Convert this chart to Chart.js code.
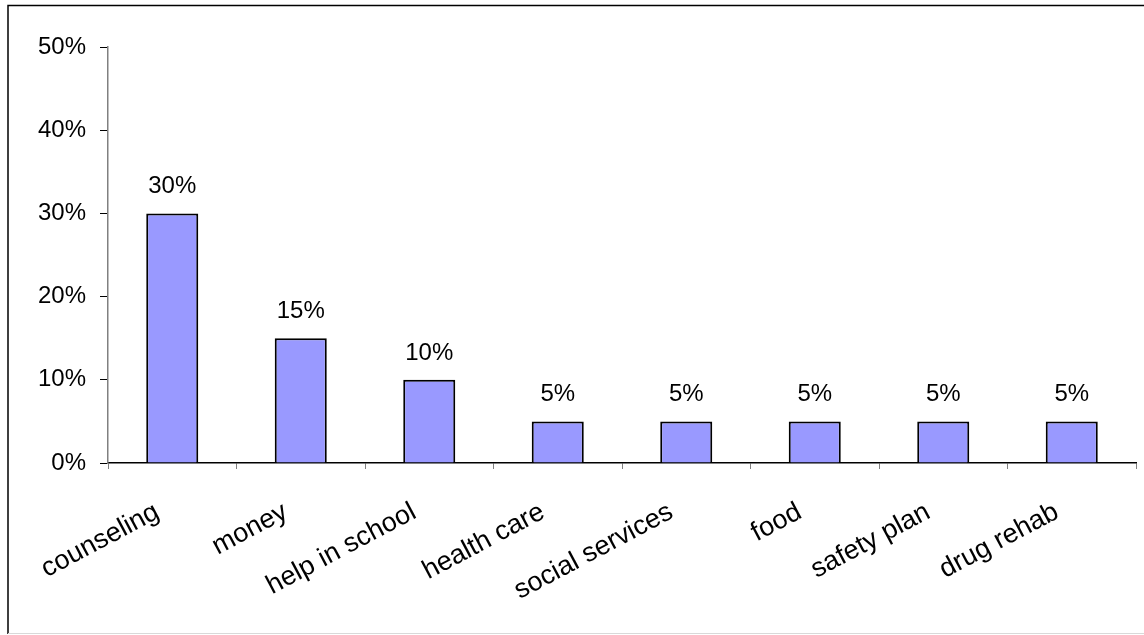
<!DOCTYPE html>
<html>
<head>
<meta charset="utf-8">
<script src="https://cdn.jsdelivr.net/npm/chart.js@4.4.0/dist/chart.umd.min.js"></script>
<style>
  html, body { margin: 0; padding: 0; background: #fff; }
  #wrap { width: 1144px; height: 635px; position: relative; }
</style>
</head>
<body>
<div id="wrap"><canvas id="c" width="1144" height="635"></canvas></div>
<script>
// Categories and shares (percent)
const categories = ['counseling', 'money', 'help in school', 'health care', 'social services', 'food', 'safety plan', 'drug rehab'];
const shares = [30, 15, 10, 5, 5, 5, 5, 5];
const yTicks = [0, 10, 20, 30, 40, 50];

const FONT = 'Liberation Sans, Arial, sans-serif';

// Frame around the chart
const framePlugin = {
  id: 'frame',
  beforeDraw(chart) {
    const ctx = chart.ctx;
    ctx.save();
    ctx.fillStyle = '#fff';
    ctx.fillRect(0, 0, chart.width, chart.height);
    ctx.strokeStyle = '#000';
    ctx.lineWidth = 1.5;
    ctx.beginPath();
    ctx.moveTo(8, 634);
    ctx.lineTo(8, 5.5);
    ctx.lineTo(1144, 5.5);
    ctx.stroke();
    ctx.strokeStyle = '#d9d9d9';
    ctx.lineWidth = 1;
    ctx.beginPath();
    ctx.moveTo(8, 633.5);
    ctx.lineTo(1144, 633.5);
    ctx.stroke();
    ctx.restore();
  }
};

// Value labels above each bar
const valueLabels = {
  id: 'valueLabels',
  afterDatasetsDraw(chart) {
    const ctx = chart.ctx;
    const meta = chart.getDatasetMeta(0);
    ctx.save();
    ctx.font = '24px ' + FONT;
    ctx.fillStyle = '#000';
    ctx.textAlign = 'center';
    ctx.textBaseline = 'alphabetic';
    meta.data.forEach((bar, i) => {
      ctx.fillText(shares[i] + '%', bar.x, bar.y - 20);
    });
    ctx.restore();
  }
};

new Chart(document.getElementById('c'), {
  type: 'bar',
  data: {
    labels: categories,
    datasets: [{
      data: shares,
      backgroundColor: '#9999ff',
      borderColor: '#000',
      borderWidth: 2,
      barPercentage: 0.405,
      categoryPercentage: 1.0
    }]
  },
  options: {
    responsive: false,
    animation: false,
    devicePixelRatio: 1,
    layout: { padding: { left: 0, top: 47, right: 8, bottom: 0 } },
    plugins: { legend: { display: false }, tooltip: { enabled: false } },
    scales: {
      x: {
        offset: true,
        grid: { offset: true, drawOnChartArea: false, drawTicks: true, tickLength: 6, color: '#808080' },
        border: { color: '#000', width: 1.5 },
        ticks: {
          font: { family: FONT, size: 27 },
          color: '#000',
          minRotation: 28,
          maxRotation: 28,
          padding: 27,
          labelOffset: -15,
          autoSkip: false
        },
        afterFit(scale) { scale.height = 172; }
      },
      y: {
        min: 0,
        max: 50,
        afterBuildTicks(scale) { scale.ticks = yTicks.map(v => ({ value: v })); },
        grid: { drawOnChartArea: false, drawTicks: true, tickLength: 8, color: '#000' },
        border: { color: '#808080', width: 1.5 },
        ticks: {
          font: { family: FONT, size: 24 },
          color: '#000',
          padding: 14,
          callback: v => v + '%'
        },
        afterFit(scale) { scale.width = 108; }
      }
    }
  },
  plugins: [framePlugin, valueLabels]
});
</script>
</body>
</html>
